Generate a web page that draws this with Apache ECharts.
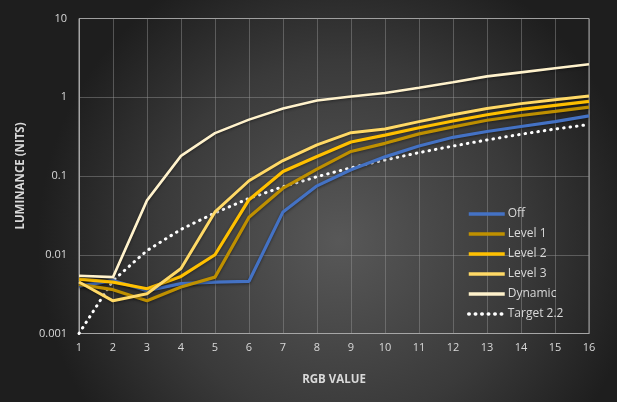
<!DOCTYPE html>
<html>
<head>
<meta charset="utf-8">
<script src="https://cdn.jsdelivr.net/npm/echarts@6/dist/echarts.min.js"></script>
<style>
  html, body { margin: 0; padding: 0; background: #2a2a2a; }
  #chart { width: 617px; height: 402px; }
</style>
</head>
<body>
<div id="chart"></div>
<script>
// ── DATA ───────────────────────────────────────────
const rgbValues = [1, 2, 3, 4, 5, 6, 7, 8, 9, 10, 11, 12, 13, 14, 15, 16];
const yTicks    = [0.001, 0.01, 0.1, 1, 10];

const offVals     = [0.0040, 0.0047, 0.0035, 0.0043, 0.0045, 0.0046, 0.035, 0.075, 0.12, 0.175, 0.24, 0.31, 0.367, 0.425, 0.49, 0.58];
const level1Vals  = [0.0042, 0.0036, 0.0026, 0.0039, 0.0052, 0.030, 0.070, 0.122, 0.205, 0.26, 0.343, 0.42, 0.51, 0.587, 0.66, 0.75];
const level2Vals  = [0.0049, 0.0045, 0.0037, 0.0053, 0.0100, 0.050, 0.114, 0.177, 0.27, 0.33, 0.41, 0.50, 0.60, 0.70, 0.79, 0.885];
const level3Vals  = [0.0045, 0.0026, 0.0032, 0.0067, 0.035, 0.087, 0.157, 0.249, 0.355, 0.395, 0.49, 0.60, 0.72, 0.83, 0.93, 1.04];
const dynamicVals = [0.0054, 0.0052, 0.049, 0.18, 0.35, 0.52, 0.72, 0.91, 1.02, 1.13, 1.32, 1.55, 1.84, 2.07, 2.33, 2.62];
const targetVals  = [0.0010, 0.0047, 0.0113, 0.021, 0.034, 0.052, 0.073, 0.098, 0.127, 0.160, 0.198, 0.240, 0.287, 0.339, 0.395, 0.45];

// ── CHART ──────────────────────────────────────────
const FONT = '"Open Sans", "DejaVu Sans", sans-serif';
const TXT  = '#d9d9d9';

const pairs = vals => rgbValues.map((x, i) => [x, vals[i]]);

function lineSeries(name, vals, color, width, extra = {}) {
  return Object.assign({
    name, type: 'line', data: pairs(vals),
    symbol: 'none', smooth: false,
    lineStyle: {
      color, width,
      shadowColor: 'rgba(0,0,0,0.45)', shadowBlur: 3, shadowOffsetY: 1,
    },
    itemStyle: { color },
  }, extra);
}

const chart = echarts.init(document.getElementById('chart'));

chart.setOption({
  animation: false,
  backgroundColor: {
    type: 'radial', x: 0.55, y: 0.6, r: 0.75,
    colorStops: [
      { offset: 0,   color: '#585858' },
      { offset: 0.6, color: '#3a3a3a' },
      { offset: 1,   color: '#1e1e1e' },
    ],
  },
  textStyle: { fontFamily: FONT },
  grid: {
    left: 79, right: 28, top: 18.5, bottom: 68.5,
    show: true, borderColor: '#a6a6a6', borderWidth: 1,
    backgroundColor: 'transparent',
  },
  legend: {
    orient: 'vertical', left: 467, top: 208, padding: 0,
    itemWidth: 36, itemHeight: 14, itemGap: 8,
    itemStyle: { opacity: 0 },
    lineStyle: { width: 3.5 },
    textStyle: { color: TXT, fontSize: 12, fontFamily: FONT, padding: [0, 0, 0, -2] },
    data: ['Off', 'Level 1', 'Level 2', 'Level 3', 'Dynamic', 'Target 2.2'],
  },
  xAxis: {
    type: 'value', min: 1, max: 16, interval: 1,
    name: 'RGB VALUE', nameLocation: 'middle', nameGap: 40,
    nameTextStyle: { color: TXT, fontSize: 11.5, fontWeight: 'bold', fontFamily: FONT },
    axisLine: { show: true, lineStyle: { color: '#a6a6a6' } },
    axisTick: { show: false },
    axisLabel: { color: TXT, fontSize: 11, margin: 9, fontFamily: FONT },
    splitLine: { show: true, lineStyle: { color: 'rgba(150,150,150,0.45)', width: 1 } },
  },
  yAxis: {
    type: 'log', logBase: 10, min: yTicks[0], max: yTicks[yTicks.length - 1],
    name: 'LUMINANCE (NITS)', nameLocation: 'middle', nameGap: 52,
    nameTextStyle: { color: TXT, fontSize: 11.5, fontWeight: 'bold', fontFamily: FONT },
    axisLine: { show: true, lineStyle: { color: '#a6a6a6' } },
    axisTick: { show: false },
    axisLabel: {
      color: TXT, fontSize: 11, margin: 12, fontFamily: FONT,
      formatter: v => String(Number(v.toPrecision(1))),
    },
    splitLine: { show: true, lineStyle: { color: 'rgba(150,150,150,0.45)', width: 1 } },
  },
  series: [
    lineSeries('Target 2.2', targetVals, '#ffffff', 3, {
      lineStyle: { color: '#ffffff', width: 3, type: [0.5, 6], cap: 'round' },
      z: 1,
    }),
    lineSeries('Off',     offVals,     '#4472c4', 3.2),
    lineSeries('Level 1', level1Vals,  '#bf9000', 3.2),
    lineSeries('Level 2', level2Vals,  '#ffc000', 3.2),
    lineSeries('Level 3', level3Vals,  '#ffd966', 3),
    lineSeries('Dynamic', dynamicVals, '#fff2cc', 2.6),
  ],
});
</script>
</body>
</html>
